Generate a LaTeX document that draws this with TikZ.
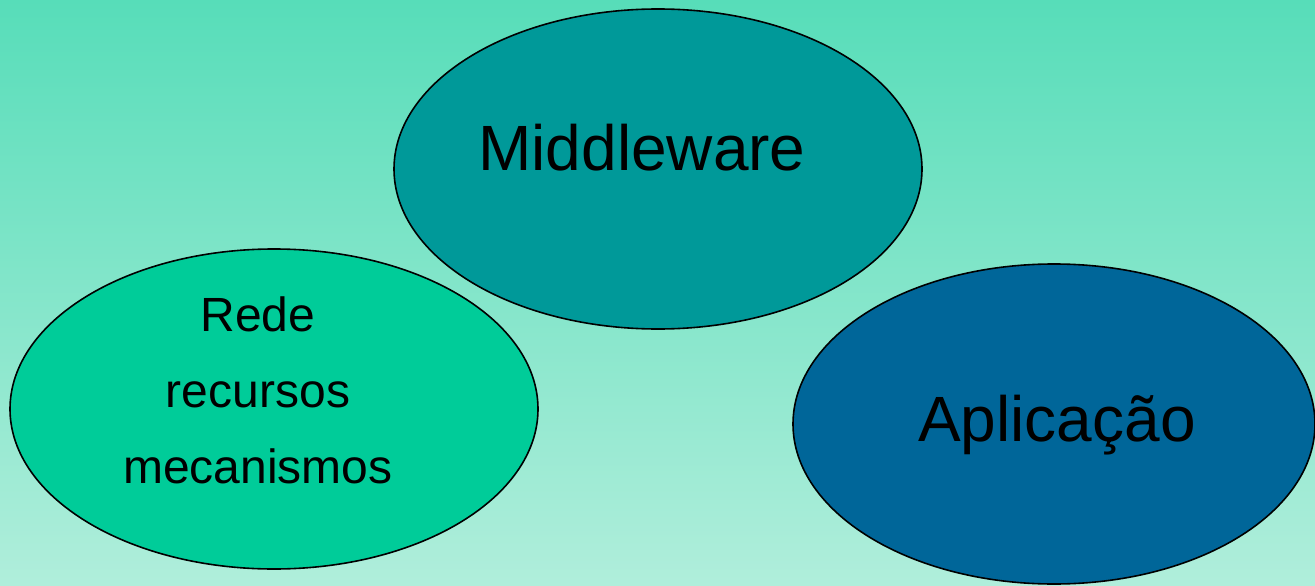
\documentclass[tikz,border=0pt]{standalone}
\usepackage{fontspec}
\setmainfont{Liberation Sans}
\usetikzlibrary{shapes.geometric}
\definecolor{bgtop}{RGB}{87,221,185}
\definecolor{bgbot}{RGB}{176,238,219}
\definecolor{mwfill}{RGB}{0,153,153}
\definecolor{redefill}{RGB}{0,204,153}
\definecolor{apfill}{RGB}{0,102,153}
\tikzset{
  blob/.style={ellipse, draw=black, line width=1.6pt, minimum width=528pt, minimum height=320pt, inner sep=0pt},
  bigtxt/.style={anchor=base, font=\fontsize{64}{64}\selectfont, inner sep=0pt},
  smalltxt/.style={anchor=base, font=\fontsize{48}{48}\selectfont, inner sep=0pt}
}
\begin{document}
\begin{tikzpicture}[x=1pt,y=-1pt]
\useasboundingbox (0,0) rectangle (1315,586);
\shade[top color=bgtop, bottom color=bgbot] (0,0) rectangle (1315,586);
\node[blob, fill=mwfill] (mw) at (658,169) {};
\node[blob, fill=redefill] (rede) at (274,409) {};
\node[blob, fill=apfill, minimum width=522pt] (ap) at (1054,424) {};
\node[bigtxt] (mwt) at (642,170) {Middleware};
\node[bigtxt] (apt) at (1057,441) {Aplicação};
\node[smalltxt] (r1) at (258,331) {Rede};
\node[smalltxt] (r2) at (258,407) {recursos};
\node[smalltxt] (r3) at (258,483) {mecanismos};
\end{tikzpicture}
\end{document}
